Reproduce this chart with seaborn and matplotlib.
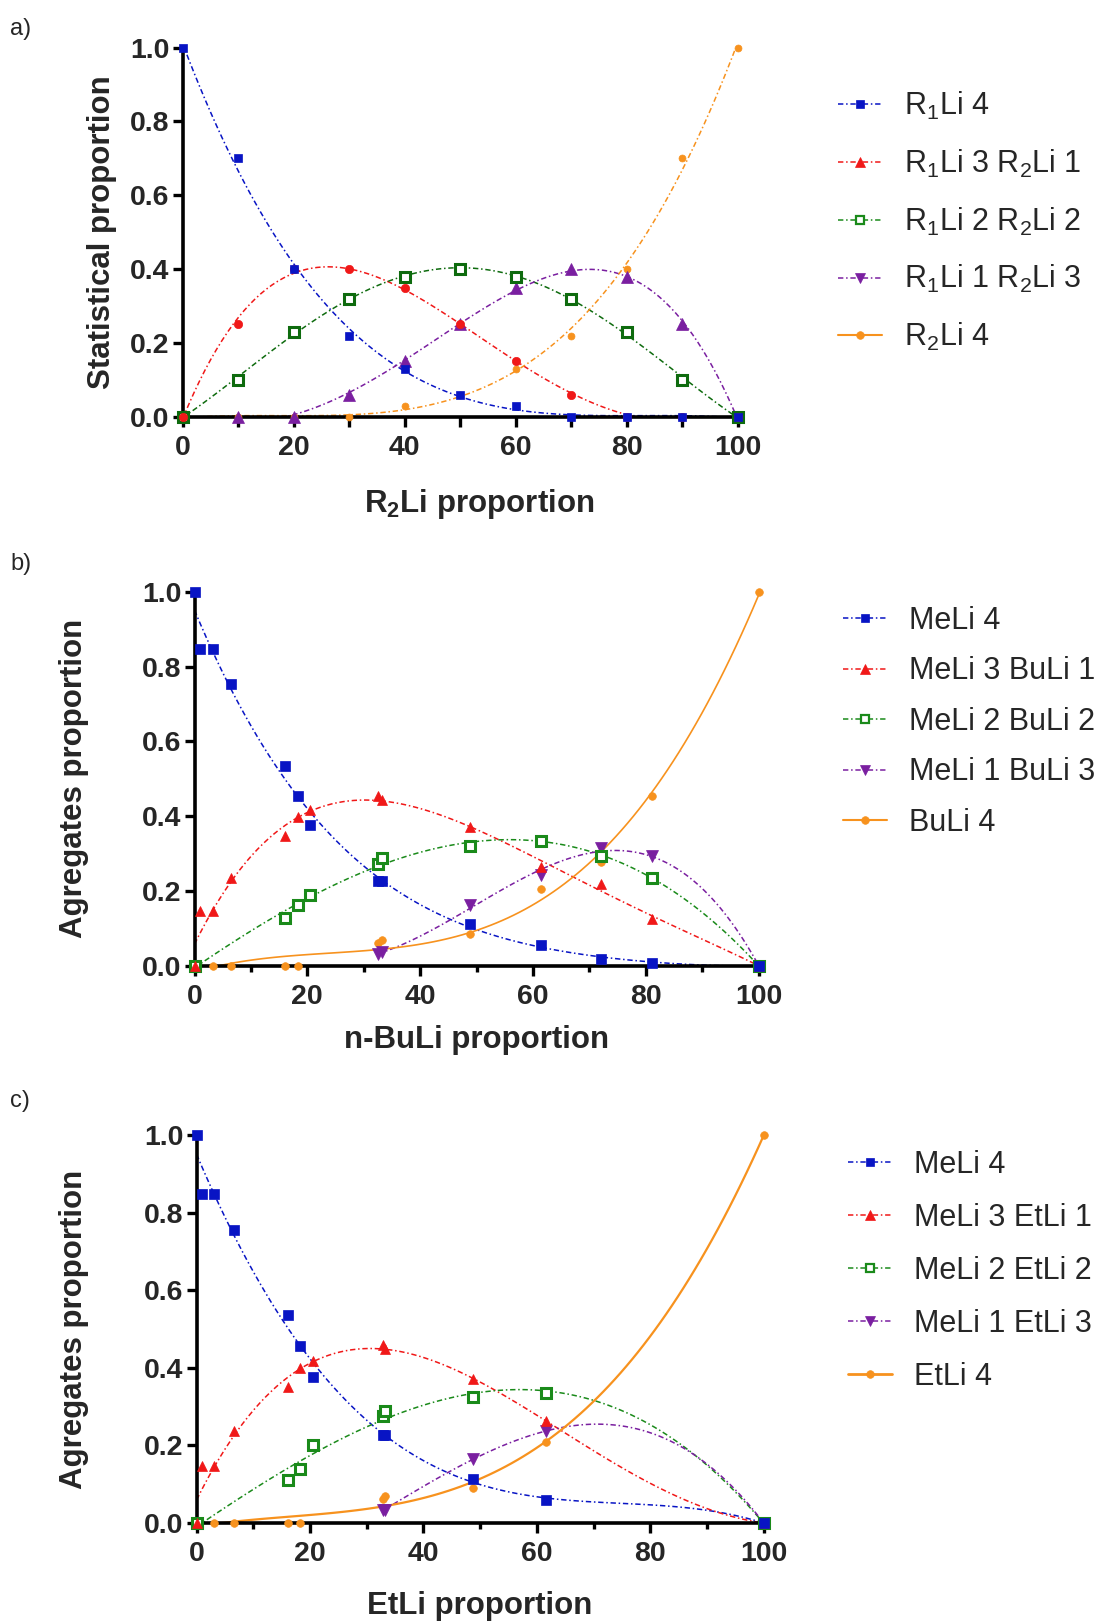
import numpy as np
import matplotlib
matplotlib.use("Agg")
import matplotlib.pyplot as plt
from matplotlib.lines import Line2D
from matplotlib.ticker import MultipleLocator
import seaborn as sns

# ---------------- a) statistical distribution of mixed tetramers ----------------
a_x = [0, 10, 20, 30, 40, 50, 60, 70, 80, 90, 100]
a_r1li4 = [1.0, 0.70, 0.40, 0.22, 0.13, 0.06, 0.03, 0.0, 0.0, 0.0, 0.0]
a_r1li3_r2li1 = [0.0, 0.25, 0.40, 0.40, 0.35, 0.25, 0.15, 0.06, 0.0, 0.0, 0.0]
a_r1li2_r2li2 = [0.0, 0.10, 0.23, 0.32, 0.38, 0.40, 0.38, 0.32, 0.23, 0.10, 0.0]
a_r1li1_r2li3 = [0.0, 0.0, 0.0, 0.06, 0.15, 0.25, 0.35, 0.40, 0.38, 0.25, 0.0]
a_r2li4 = [0.0, 0.0, 0.0, 0.0, 0.03, 0.06, 0.13, 0.22, 0.40, 0.70, 1.0]

# ---------------- b) MeLi / n-BuLi mixtures ----------------
b_x = [0, 0.9, 3.2, 6.5, 16.1, 18.4, 20.5, 32.6, 33.3, 48.8, 61.5, 72.1, 81.2, 100]
b_meli4 = [1.0, 0.848, 0.848, 0.754, 0.533, 0.454, 0.375, 0.226, 0.226, 0.112, 0.056, 0.018, 0.006, 0.0]
b_meli3_buli1 = [0.0, 0.146, 0.146, 0.235, 0.348, 0.397, 0.417, 0.454, 0.444, 0.371, 0.263, 0.219, 0.125, 0.0]
b_x_mix22 = [0, 16.1, 18.4, 20.5, 32.6, 33.3, 48.8, 61.5, 72.1, 81.2, 100]
b_meli2_buli2 = [0.0, 0.128, 0.161, 0.188, 0.272, 0.288, 0.321, 0.333, 0.292, 0.235, 0.0]
b_x_mix13 = [32.6, 33.3, 48.8, 61.5, 72.1, 81.2, 100]
b_meli1_buli3 = [0.030, 0.035, 0.163, 0.241, 0.314, 0.292, 0.0]
b_x_buli4 = [0, 3.2, 6.5, 16.1, 18.4, 32.6, 33.3, 48.8, 61.5, 72.1, 81.2, 100]
b_buli4 = [0.0, 0.0, 0.0, 0.0, 0.0, 0.060, 0.067, 0.085, 0.205, 0.277, 0.454, 1.0]

# ---------------- c) MeLi / EtLi mixtures ----------------
c_x = [0, 1.0, 3.1, 6.6, 16.2, 18.3, 20.5, 32.8, 33.3, 48.7, 61.6, 100]
c_meli4 = [1.0, 0.849, 0.849, 0.755, 0.535, 0.456, 0.376, 0.228, 0.228, 0.114, 0.060, 0.0]
c_meli3_etli1 = [0.0, 0.148, 0.148, 0.237, 0.350, 0.400, 0.417, 0.458, 0.448, 0.372, 0.262, 0.0]
c_x_mix22 = [0, 16.2, 18.3, 20.5, 32.8, 33.3, 48.7, 61.6, 100]
c_meli2_etli2 = [0.0, 0.112, 0.140, 0.202, 0.275, 0.288, 0.325, 0.336, 0.0]
c_x_mix13 = [32.8, 33.3, 48.7, 61.6, 100]
c_meli1_etli3 = [0.034, 0.034, 0.164, 0.237, 0.0]
c_x_etli4 = [0, 3.1, 6.6, 16.2, 18.3, 32.8, 33.3, 48.7, 61.6, 100]
c_etli4 = [0.0, 0.0, 0.0, 0.0, 0.0, 0.062, 0.069, 0.089, 0.208, 1.0]

x_ticks = [0, 20, 40, 60, 80, 100]
y_ticks = [0.0, 0.2, 0.4, 0.6, 0.8, 1.0]

a_labels = [r"R$_1$Li 4", r"R$_1$Li 3 R$_2$Li 1", r"R$_1$Li 2 R$_2$Li 2",
            r"R$_1$Li 1 R$_2$Li 3", r"R$_2$Li 4"]
b_labels = ["MeLi 4", "MeLi 3 BuLi 1", "MeLi 2 BuLi 2", "MeLi 1 BuLi 3", "BuLi 4"]
c_labels = ["MeLi 4", "MeLi 3 EtLi 1", "MeLi 2 EtLi 2", "MeLi 1 EtLi 3", "EtLi 4"]

# ---------------- style ----------------
sns.set_style("ticks")
plt.rcParams["font.family"] = ["Liberation Sans", "DejaVu Sans"]
plt.rcParams["mathtext.fontset"] = "custom"
plt.rcParams["mathtext.rm"] = "Liberation Sans"
plt.rcParams["mathtext.it"] = "Liberation Sans:italic"
plt.rcParams["mathtext.bf"] = "Liberation Sans:bold"

BLUE = "#0814c4"
RED = "#f01818"
GREEN = "#1a8a1a"
GREEN_A = "#0e6b0e"
PURPLE = "#7a1fa0"
ORANGE = "#f7921e"
DASHDOT = (0, (3.5, 1.8, 1.0, 1.8))
LABEL_SIZE = 22.5

W, H = 1099, 1623
fig = plt.figure(figsize=(W / 100, H / 100), dpi=100)


def px_axes(left, right, top, bottom):
    return fig.add_axes([left / W, 1 - bottom / H, (right - left) / W, (bottom - top) / H])


def fit_curve(ax, x, y, order, color, ls=DASHDOT, lw=1.1):
    sns.regplot(x=np.asarray(x, float), y=np.asarray(y, float), order=order, ci=None,
                scatter=False, ax=ax, color=color, truncate=True,
                line_kws=dict(lw=lw, ls=ls, zorder=2))


def markers(ax, x, y, marker, color, ms, open_face=False, mew=0.5):
    ax.plot(x, y, ls="none", marker=marker, ms=ms,
            mfc="white" if open_face else color, mec=color,
            mew=mew, clip_on=False, zorder=4)


def style_axes(ax, minor_len):
    ax.set_xlim(0, 100)
    ax.set_ylim(0, 1.0)
    sns.despine(ax=ax)
    for side in ("left", "bottom"):
        ax.spines[side].set_linewidth(2.6)
        ax.spines[side].set_color("black")
    ax.set_xticks(x_ticks)
    ax.set_yticks(y_ticks)
    ax.xaxis.set_minor_locator(MultipleLocator(10))
    ax.set_xticklabels([str(t) for t in x_ticks])
    ax.set_yticklabels([f"{t:.1f}" for t in y_ticks])
    ax.tick_params(axis="both", which="major", length=7, width=2.4, color="black",
                   labelsize=20.5, direction="out")
    ax.tick_params(axis="x", which="major", pad=6)
    ax.tick_params(axis="y", which="major", pad=2.5)
    ax.tick_params(axis="x", which="minor", length=minor_len, width=2.4, color="black",
                   direction="out")
    for lab in ax.get_xticklabels() + ax.get_yticklabels():
        lab.set_fontweight("bold")
    ax.set_facecolor("white")
    ax.grid(False)


def legend(ax, handles, labels, x_px, top_px, spacing):
    ax.legend(handles, labels, loc="upper left",
              bbox_to_anchor=(x_px / W, 1 - top_px / H), bbox_transform=fig.transFigure,
              frameon=False, fontsize=22, handlelength=1.45, handletextpad=0.7,
              labelspacing=spacing, borderpad=0, borderaxespad=0)


def handle(color, marker, ms, ls=DASHDOT, open_face=False, lw=1.1):
    return Line2D([], [], color=color, ls=ls, lw=lw, marker=marker, ms=ms,
                  mfc="white" if open_face else color, mec=color,
                  mew=1.6 if open_face else 0.5)


# ---------------- panel a ----------------
ax_a = px_axes(182.5, 737.5, 47.6, 416.8)
fit_curve(ax_a, a_x, a_r1li4, 4, BLUE)
fit_curve(ax_a, a_x, a_r1li3_r2li1, 4, RED)
fit_curve(ax_a, a_x, a_r1li2_r2li2, 4, GREEN_A)
fit_curve(ax_a, a_x, a_r1li1_r2li3, 4, PURPLE)
fit_curve(ax_a, a_x, a_r2li4, 4, ORANGE)
markers(ax_a, a_x, a_r2li4, "o", ORANGE, 5)
markers(ax_a, a_x, a_r1li1_r2li3, "^", PURPLE, 9)
markers(ax_a, a_x, a_r1li2_r2li2, "s", GREEN_A, 7, open_face=True, mew=2.2)
markers(ax_a, a_x, a_r1li3_r2li1, "o", RED, 6)
markers(ax_a, a_x, a_r1li4, "s", BLUE, 6)
style_axes(ax_a, minor_len=7)
ax_a.set_ylabel("Statistical proportion", fontsize=LABEL_SIZE, fontweight="bold")
ax_a.yaxis.set_label_coords((117 - 182.5) / 555, 0.5)
ax_a.set_xlabel(r"R$_\mathbf{2}$Li proportion", fontsize=LABEL_SIZE, fontweight="bold")
ax_a.xaxis.set_label_coords(0.535, (416.8 - 487) / 369.2)
legend(ax_a, [handle(BLUE, "s", 6), handle(RED, "^", 6.5), handle(GREEN, "s", 6, open_face=True),
              handle(PURPLE, "v", 7.5), handle(ORANGE, "o", 5.5, ls="-", lw=1.5)],
       a_labels, 838, 90, 0.84)

# ---------------- panel b ----------------
ax_b = px_axes(194.5, 758.5, 592, 965.5)
fit_curve(ax_b, b_x, b_meli4, 4, BLUE)
fit_curve(ax_b, b_x, b_meli3_buli1, 4, RED)
fit_curve(ax_b, b_x_mix22, b_meli2_buli2, 3, GREEN)
fit_curve(ax_b, b_x_mix13, b_meli1_buli3, 3, PURPLE)
fit_curve(ax_b, b_x_buli4, b_buli4, 3, ORANGE, ls="-", lw=1.2)
markers(ax_b, b_x_buli4, b_buli4, "o", ORANGE, 5.5)
markers(ax_b, b_x_mix13, b_meli1_buli3, "v", PURPLE, 9)
markers(ax_b, b_x_mix22, b_meli2_buli2, "s", GREEN, 7.5, open_face=True, mew=2.2)
markers(ax_b, b_x, b_meli3_buli1, "^", RED, 7)
markers(ax_b, b_x, b_meli4, "s", BLUE, 6.5)
style_axes(ax_b, minor_len=4)
ax_b.set_ylabel("Agregates proportion", fontsize=LABEL_SIZE, fontweight="bold")
ax_b.yaxis.set_label_coords((89 - 194.5) / 564, 0.5)
ax_b.set_xlabel("n-BuLi proportion", fontsize=LABEL_SIZE, fontweight="bold")
ax_b.xaxis.set_label_coords(0.5, (965.5 - 1025) / 373.5)
legend(ax_b, [handle(BLUE, "s", 6), handle(RED, "^", 6.5), handle(GREEN, "s", 6, open_face=True),
              handle(PURPLE, "v", 7.5), handle(ORANGE, "o", 5.5, ls="-", lw=1.5)],
       b_labels, 843, 606, 0.67)

# ---------------- panel c ----------------
ax_c = px_axes(196.6, 763.7, 1135, 1523)
fit_curve(ax_c, c_x, c_meli4, 4, BLUE)
fit_curve(ax_c, c_x, c_meli3_etli1, 4, RED)
fit_curve(ax_c, c_x_mix22, c_meli2_etli2, 3, GREEN)
fit_curve(ax_c, c_x_mix13, c_meli1_etli3, 3, PURPLE)
fit_curve(ax_c, c_x_etli4, c_etli4, 3, ORANGE, ls="-", lw=1.6)
markers(ax_c, c_x_etli4, c_etli4, "o", ORANGE, 5.5)
markers(ax_c, c_x_mix13, c_meli1_etli3, "v", PURPLE, 9)
markers(ax_c, c_x_mix22, c_meli2_etli2, "s", GREEN, 7.5, open_face=True, mew=2.2)
markers(ax_c, c_x, c_meli3_etli1, "^", RED, 7)
markers(ax_c, c_x, c_meli4, "s", BLUE, 6.5)
style_axes(ax_c, minor_len=4)
ax_c.set_ylabel("Agregates proportion", fontsize=LABEL_SIZE, fontweight="bold")
ax_c.yaxis.set_label_coords((89 - 196.6) / 567.1, 0.5)
ax_c.set_xlabel("EtLi proportion", fontsize=LABEL_SIZE, fontweight="bold")
ax_c.xaxis.set_label_coords(0.5, (1523 - 1591) / 388)
legend(ax_c, [handle(BLUE, "s", 6), handle(RED, "^", 6.5), handle(GREEN, "s", 6, open_face=True),
              handle(PURPLE, "v", 7.5), handle(ORANGE, "o", 5.5, ls="-", lw=2.0)],
       c_labels, 848, 1150, 0.75)

# ---------------- panel letters ----------------
for letter, y_px in (("a)", 29), ("b)", 564), ("c)", 1101)):
    fig.text(10 / W, 1 - y_px / H, letter, fontsize=17, ha="left", va="center")

fig.savefig("out.png", dpi=100, facecolor="white")
